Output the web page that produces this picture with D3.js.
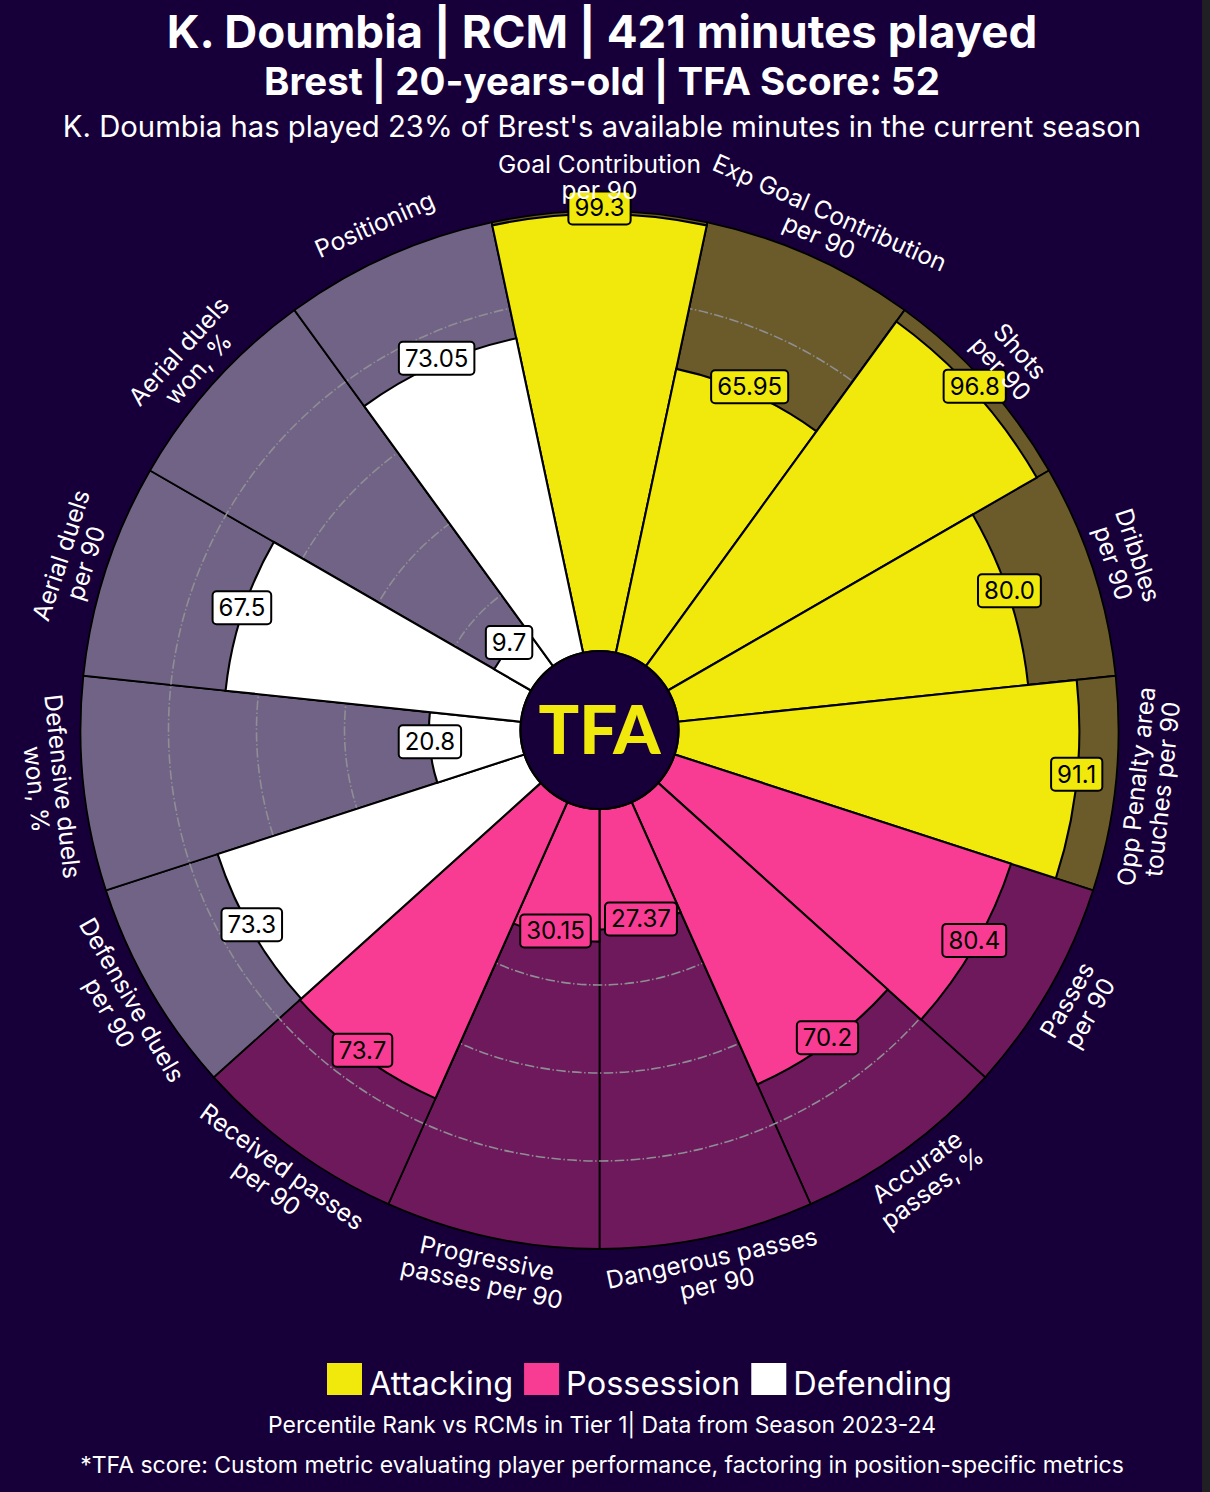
<!DOCTYPE html>
<html><head><meta charset="utf-8">
<script src="https://cdn.jsdelivr.net/npm/d3@7"></script>
<style>body{margin:0;background:#17003a;} svg{display:block}</style>
</head><body>
<script>
// ---------- data ----------
const params = [
  "Goal Contribution\nper 90",
  "Exp Goal Contribution\nper 90",
  "Shots\nper 90",
  "Dribbles\nper 90",
  "Opp Penalty area\ntouches per 90",
  "Passes\nper 90",
  "Accurate\npasses, %",
  "Dangerous passes\nper 90",
  "Progressive\npasses per 90",
  "Received passes\nper 90",
  "Defensive duels\nper 90",
  "Defensive duels\nwon, %",
  "Aerial duels\nper 90",
  "Aerial duels\nwon, %",
  "Positioning"
];
const values = [99.3, 65.95, 96.8, 80.0, 91.1, 80.4, 70.2, 27.37, 30.15, 73.7, 73.3, 20.8, 67.5, 9.7, 73.05];
const groups = ["Attacking","Attacking","Attacking","Attacking","Attacking",
                "Possession","Possession","Possession","Possession","Possession",
                "Defending","Defending","Defending","Defending","Defending"];
const groupNames = ["Attacking", "Possession", "Defending"];
const gridTicks = [20, 40, 60, 80];
const titleLines = [
  "K. Doumbia | RCM | 421 minutes played",
  "Brest | 20-years-old | TFA Score: 52",
  "K. Doumbia has played 23% of Brest's available minutes in the current season"
];
const footerLines = [
  "Percentile Rank vs RCMs in Tier 1| Data from Season 2023-24",
  "*TFA score: Custom metric evaluating player performance, factoring in position-specific metrics"
];

// ---------- style ----------
const W = 1210, H = 1492;
const BG = "#17003a";
const sliceColor = d3.scaleOrdinal().domain(groupNames).range(["#f2e90c", "#f83c93", "#ffffff"]);
const bgColor = d3.scaleOrdinal().domain(groupNames).range(["#6b5b2a", "#6d195c", "#716386"]);
const FONT = "Inter, 'Open Sans', sans-serif";
const cx = 599.5, cy = 730, rInner = 79, rOuter = 519;

const svg = d3.select("body").append("svg").attr("width", W).attr("height", H);
svg.append("rect").attr("width", W).attr("height", H).attr("fill", BG);
svg.append("rect").attr("x", 1202).attr("width", 8).attr("height", H).attr("fill", "#1f1f24");

function fit(sel, target, base) {
  const w = sel.node().getComputedTextLength();
  sel.attr("font-size", base * target / w);
}

// titles
const tcx = 602;
const t1 = svg.append("text").attr("x", tcx).attr("y", 48).attr("text-anchor", "middle")
  .attr("fill", "#fff").attr("font-family", FONT).attr("font-weight", 700).attr("font-size", 42).text(titleLines[0]);
fit(t1, 871, 42);
const t2 = svg.append("text").attr("x", tcx).attr("y", 95).attr("text-anchor", "middle")
  .attr("fill", "#fff").attr("font-family", FONT).attr("font-weight", 700).attr("font-size", 33).text(titleLines[1]);
fit(t2, 676, 33);
const t3 = svg.append("text").attr("x", tcx).attr("y", 137).attr("text-anchor", "middle")
  .attr("fill", "#fff").attr("font-family", FONT).attr("font-weight", 400).attr("font-size", 27).text(titleLines[2]);
fit(t3, 1079, 27);

// ---------- chart ----------
const n = params.length;
const step = 2 * Math.PI / n;
const rScale = d3.scaleLinear().domain([0, 100]).range([rInner, rOuter]);
const data = params.map((p, i) => ({
  param: p, value: values[i], group: groups[i],
  start: i * step - step / 2, end: i * step + step / 2, mid: i * step
}));

const g = svg.append("g").attr("transform", `translate(${cx},${cy})`);

// background slices
const bgArc = d3.arc().innerRadius(rInner).outerRadius(rScale(100))
  .startAngle(d => d.start).endAngle(d => d.end);
g.selectAll(".bgslice").data(data).join("path")
  .attr("d", bgArc).attr("fill", d => bgColor(d.group))
  .attr("stroke", "#000").attr("stroke-width", 1.8);

// grid
g.selectAll(".grid").data(gridTicks).join("circle")
  .attr("r", d => rScale(d)).attr("fill", "none")
  .attr("stroke", "#8e8e94").attr("stroke-width", 1.6)
  .attr("stroke-dasharray", "9.6,2.4,1.5,2.4");

// value bars
const barArc = d3.arc().innerRadius(rInner).outerRadius(d => rScale(d.value))
  .startAngle(d => d.start).endAngle(d => d.end);
g.selectAll(".bar").data(data).join("path")
  .attr("d", barArc).attr("fill", d => sliceColor(d.group))
  .attr("stroke", "#000").attr("stroke-width", 2.1);

// inner circle + logo
g.append("circle").attr("r", rInner).attr("fill", BG).attr("stroke", "#000").attr("stroke-width", 2.2);
const logo = g.append("text").attr("x", 0).attr("y", 0).attr("dy", "0.36em").attr("text-anchor", "middle")
  .attr("fill", "#f2e90c").attr("font-family", "Lato, Inter, sans-serif").attr("font-weight", 900)
  .attr("font-size", 64).text("TFA");
fit(logo, 122, 64);

// value labels
const fmt = v => Number.isInteger(v) ? v.toFixed(1) : String(v);
const vl = g.selectAll(".vlabel").data(data).join("g")
  .attr("transform", d => {
    const r = rScale(d.value);
    return `translate(${r * Math.sin(d.mid)},${-r * Math.cos(d.mid) - 6})`;
  });
vl.each(function(d) {
  const sel = d3.select(this);
  const rect = sel.append("rect");
  const t = sel.append("text").attr("text-anchor", "middle").attr("dy", "0.35em")
    .attr("font-family", FONT).attr("font-size", 24).attr("fill", "#000").text(fmt(d.value));
  const bb = t.node().getBBox();
  const padX = 6, h = 33;
  rect.attr("x", bb.x - padX).attr("y", -h / 2).attr("width", bb.width + 2 * padX).attr("height", h)
    .attr("rx", 4).attr("fill", sliceColor(d.group)).attr("stroke", "#000").attr("stroke-width", 2);
});

// parameter labels
const rLab = 553, lineH = 26;
const pl = g.selectAll(".plabel").data(data).join("text")
  .attr("text-anchor", "middle").attr("fill", "#fff").attr("font-family", FONT).attr("font-size", 24.5)
  .attr("transform", d => {
    const deg = d.mid * 180 / Math.PI;
    const rot = (deg > 90 && deg < 270) ? deg - 180 : deg;
    return `translate(${rLab * Math.sin(d.mid)},${-rLab * Math.cos(d.mid)}) rotate(${rot})`;
  });
pl.each(function(d) {
  const lines = d.param.split("\n");
  const sel = d3.select(this);
  lines.forEach((ln, k) => {
    sel.append("tspan").attr("x", 0)
      .attr("y", (k - (lines.length - 1) / 2) * lineH).attr("dy", "0.35em").text(ln);
  });
});

// ---------- legend ----------
const legY = 1363, sq = 35;
let lx = 327;
groupNames.forEach(name => {
  svg.append("rect").attr("x", lx).attr("y", legY).attr("width", sq).attr("height", 32)
    .attr("fill", sliceColor(name));
  const t = svg.append("text").attr("x", lx + sq + 7).attr("y", legY + 32).attr("fill", "#fff")
    .attr("font-family", FONT).attr("font-size", 32.5).text(name);
  lx = lx + sq + 7 + t.node().getComputedTextLength() + 11;
});

// footer
const f1 = svg.append("text").attr("x", tcx).attr("y", 1433).attr("text-anchor", "middle")
  .attr("fill", "#fff").attr("font-family", FONT).attr("font-size", 20).text(footerLines[0]);
fit(f1, 668, 20);
const f2 = svg.append("text").attr("x", tcx).attr("y", 1473).attr("text-anchor", "middle")
  .attr("fill", "#fff").attr("font-family", FONT).attr("font-size", 20).text(footerLines[1]);
fit(f2, 1044, 20);
</script>
</body></html>
